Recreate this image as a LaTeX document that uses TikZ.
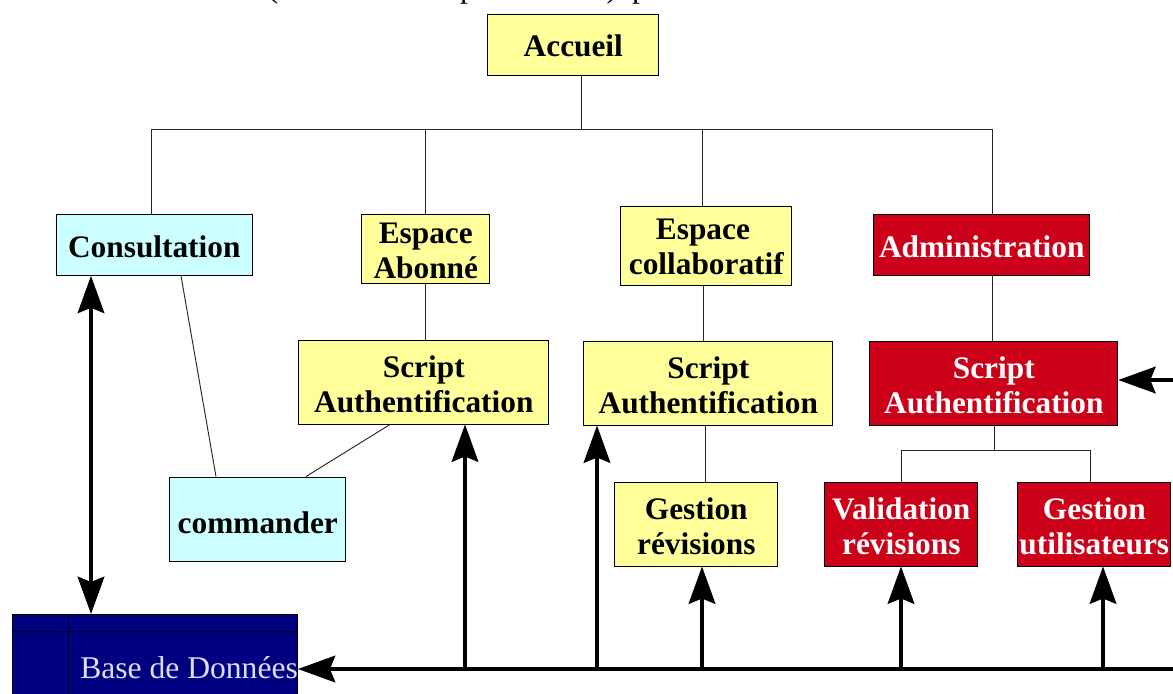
\documentclass[tikz,border=0pt]{standalone}
\usepackage{fontspec}
\setmainfont{Liberation Serif}
\usetikzlibrary{arrows.meta}
\definecolor{ybox}{HTML}{FFFF99}
\definecolor{cbox}{HTML}{CCFFFF}
\definecolor{rbox}{HTML}{CC0018}
\definecolor{dbbox}{HTML}{000080}
\definecolor{dbtext}{HTML}{DDDDFF}
% text lines placed by baseline, relative to the centre of the box
\newcommand\oneline[2][12.5pt]{\makebox[0pt]{\raisebox{-0.75\dimexpr#1\relax}[0pt][0pt]{#2}}}
\newcommand\twolines[3][0pt]{\makebox[0pt]{\raisebox{\dimexpr3.75pt-0.75\dimexpr#1\relax\relax}[0pt][0pt]{#2}}\makebox[0pt]{\raisebox{\dimexpr-22.5pt-0.75\dimexpr#1\relax\relax}[0pt][0pt]{#3}}}
\tikzset{
  x=0.75pt,y=-0.75pt,
  basebox/.style={draw=black,line width=0.75pt,inner sep=0pt,
    font=\fontsize{23.5}{26.25}\selectfont\bfseries},
  ybx/.style={basebox,fill=ybox},
  cbx/.style={basebox,fill=cbox},
  rbx/.style={basebox,fill=rbox,text=white},
  size/.style 2 args={minimum width=#1*0.75pt,minimum height=#2*0.75pt},
  thin line/.style={draw=black!85,line width=0.7pt},
  bus/.style={draw=black,line width=2.6pt},
  head/.style={-{Stealth[length=28pt,width=20pt,inset=4pt]}},
  dhead/.style={{Stealth[length=28pt,width=20pt,inset=4pt]}-{Stealth[length=28pt,width=20pt,inset=4pt]}},
  cut/.style={font=\fontsize{23.7}{26.25}\selectfont,inner sep=0pt,anchor=base},
}
\begin{document}
\begin{tikzpicture}
\useasboundingbox (0,0) rectangle (1173,693);
\clip (0,0) rectangle (1173,693);
\fill[white] (0,0) rectangle (1173,693);
% cut-off text at the top
\node[cut] (t1) at (273,-3) {(};
\node[cut] (t2) at (468,-3) {p};
\node[cut] (t3) at (612,-3) {)};
\node[cut] (t4) at (640,-3) {p};
% nodes
\node[ybx,size={171}{61}] (acc) at (573.3,44.5) {\oneline[12pt]{Accueil}};
\node[cbx,size={195.5}{61}] (cons) at (154.3,244.8) {\oneline{Consultation}};
\node[ybx,size={128}{69}] (abo) at (425.8,248.7) {\twolines[-0.7pt]{Espace}{Abonné}};
\node[ybx,size={171}{79}] (col) at (706.3,245.5) {\twolines[-1.5pt]{\kern-5pt Espace}{collaboratif}};
\node[rbx,size={216}{61}] (adm) at (981.8,244.8) {\oneline{Administration}};
\node[ybx,size={250}{84}] (s1) at (423.8,382) {\twolines{Script}{Authentification}};
\node[ybx,size={249}{84}] (s2) at (708.3,383) {\twolines{Script}{Authentification}};
\node[rbx,size={248}{84}] (s3) at (993.8,383) {\twolines{Script}{Authentification}};
\node[cbx,size={176}{84}] (cmd) at (257.8,519) {\oneline[14pt]{commander}};
\node[ybx,size={163}{84}] (ges) at (696.3,524) {\twolines{Gestion}{révisions}};
\node[rbx,size={153}{84}] (val) at (901.3,524) {\twolines{Validation}{révisions}};
\node[rbx,size={153}{84}] (uti) at (1094.3,524) {\twolines{Gestion}{utilisateurs}};
\node[draw=black,line width=0.7pt,fill=dbbox,minimum width=213.75pt,minimum height=90pt,inner sep=0pt,anchor=north west] (db) at (12,614) {};
\coordinate (dbv) at (68,614);
\coordinate (dbh) at (12,631);
\draw[line width=0.7pt] (dbv) -- (dbv |- db.south);
\draw[line width=0.7pt] (dbh) -- (dbh -| db.east);
\node[anchor=base west,inner sep=0pt,text=dbtext,font=\fontsize{23.7}{26}\selectfont] (dbt) at (80,678) {Base de Données};
% tree connectors
\coordinate (hub) at (581,129);
\draw[thin line] (581,0 |- acc.south) -- (hub);
\draw[thin line] (151,0 |- cons.north) -- (151,129) -- (992,129) -- (992,0 |- adm.north);
\draw[thin line] (425,129) -- (425,0 |- abo.north);
\draw[thin line] (702.5,129) -- (702.5,0 |- col.north);
\draw[thin line] (425,0 |- abo.south) -- (425,0 |- s1.north);
\draw[thin line] (703,0 |- col.south) -- (703,0 |- s2.north);
\draw[thin line] (992,0 |- adm.south) -- (992,0 |- s3.north);
\draw[thin line] (705,0 |- s2.south) -- (705,0 |- ges.north);
\draw[thin line] (994,0 |- s3.south) -- (994,450);
\draw[thin line] (901,0 |- val.north) -- (901,450) -- (1090,450) -- (1090,0 |- uti.north);
\draw[thin line] (181,0 |- cons.south) -- (216,0 |- cmd.north);
\draw[thin line] (390,0 |- s1.south) -- (306,0 |- cmd.north);
% thick connectors
\coordinate (busr) at (1173,669);
\coordinate (s3r) at (1173,380);
\draw[bus,dhead] (91,0 |- cons.south) -- (91,0 |- db.north);
\draw[bus,head] (busr) -- (db.east |- busr);
\draw[bus,head] (465,669) -- (465,0 |- s1.south);
\draw[bus,head] (597,669) -- (597,0 |- s2.south);
\draw[bus,head] (702,669) -- (702,0 |- ges.south);
\draw[bus,head] (901,669) -- (901,0 |- val.south);
\draw[bus,head] (1103,669) -- (1103,0 |- uti.south);
\draw[bus,head] (s3r) -- (s3.east |- s3r);
\end{tikzpicture}
\end{document}
